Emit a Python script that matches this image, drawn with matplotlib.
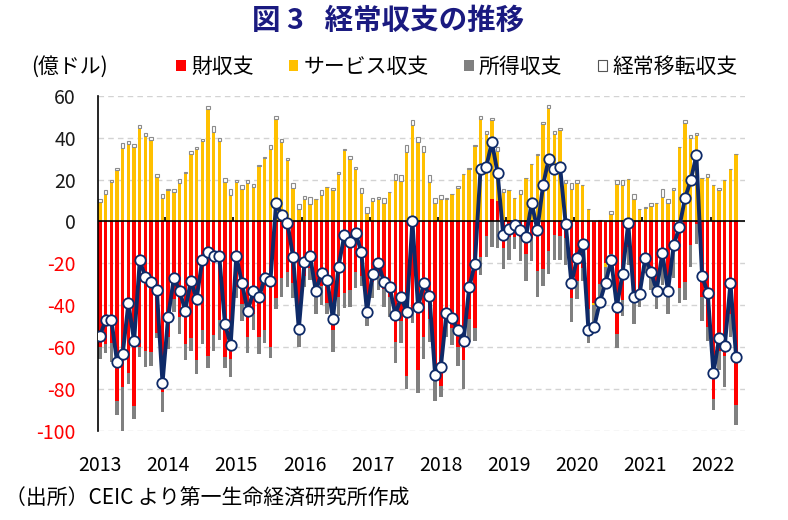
import numpy as np
import matplotlib
matplotlib.use("Agg")
import matplotlib.pyplot as plt
from matplotlib.patches import Patch

plt.rcParams['font.family'] = ['Noto Sans CJK JP', 'DejaVu Sans']

# 月次データ 2013/01 - 2022/05（億ドル）
years = [str(y) for y in range(2013, 2023)]
goods = [-60, -58.4, -58, -85.5, -79, -72.5, -88, -60, -61.6, -62.1, -53.3, -81.5,
         -55, -37, -45.7, -58.4, -55.6, -66, -51.7, -64.3, -54, -47, -64.5, -65.6,
         -31.4, -39.3, -55, -44, -55, -52, -60, -36.5, -27, -24.2, -29.5, -52,
         -26, -22, -36, -31, -39, -52, -36, -34, -32.6, -24.2, -25.8, -42,
         -29, -25.8, -32.2, -36, -57.6, -47.3, -73.6, -42, -70.9, -55, -46.5, -76,
         -78.3, -46, -51, -60, -66, -46.5, -50.8, -17, -7, 10.5, 9.6, -12.7,
         -7.5, -7.5, -7.5, -15.4, -8, -23.4, -22.6, -14.3, -6.7, -7, -8, -36.5,
         -28.2, -22, -42, -39, -30, -20, -15.4, -53.7, -37.4, -12, -38.5, -35,
         -18, -25.5, -33, -15, -33, -11, -31.7, -29, -11.1, -1, -36.1, -50.5,
         -84.7, -62, -64, -44.2, -87.6]
services = [9.5, 13.2, 18.8, 24.7, 35.2, 37.1, 35.5, 44.6, 40.9, 38.7, 21.2, 11.3,
            14.8, 13.9, 18.3, 23, 32.3, 34.4, 38.4, 53.7, 42.7, 38.4, 18.8, 12.4,
            18.8, 15.3, 18.3, 16.4, 26.3, 30.4, 34.4, 48.9, 37.9, 29.1, 16.1, 6,
            10.7, 8.1, 10.8, 12.4, 16.4, 14.8, 22.8, 33.9, 29.9, 24.8, 13.7, 4.1,
            9.7, 10.8, 8.8, 14, 19.9, 19.3, 33.1, 46.2, 37.9, 33.1, 18.8, 8.8,
            10.8, 10.8, 12.9, 16.1, 22.5, 25, 35.8, 49, 41.9, 37.7, 24, 14,
            14.8, 11.1, 13.2, 20.9, 27.5, 31.5, 46.7, 54.3, 41.9, 43.5, 18.3, 15.6,
            18.3, 17.5, 6, -1, 0.5, -1.5, 3.7, 17.7, 17.2, 20.4, 10.7, 6,
            6.5, 7.6, 8.8, 11.6, 8.8, 14.8, 35.5, 47.1, 40, 41.1, 20.9, 21.2,
            17.5, 15.1, 19.9, 24.8, 32.3]
primary = [-5.6, -4.5, -9, -6.8, -21, -5, -6.4, -4.8, -7.6, -6.7, -2.2, -9.6,
           -5.8, -6.4, -8, -7.6, -6, -7, -6.7, -5.7, -8, -9.5, -5.6, -8.8,
           -5.1, -8, -7.7, -8, -8, -6, -5.1, -5.3, -9, -7.2, -7, -8,
           -5.4, -6, -8, -9, -5, -10.5, -9, -7.5, -8.4, -7.6, -4.8, -8,
           -7.3, -6.8, -8.4, -9.7, -10, -10.8, -6.4, -6.6, -11, -10.6, -11, -9.5,
           -5.3, -9, -8, -9, -14, -11, -6, -8.5, -10, -12.3, -12.7, -9.9,
           -11, -5.5, -11.5, -13, -10.7, -12.4, -8, -11, -11.6, -11.6, -13, -11.5,
           -9, -6.2, -16, -10.3, -9, -7.8, -8.4, -6.5, -7.6, -9, -10.2, -5.6,
           -6.6, -7.1, -9, -15.5, -11, -16, -7, -8.5, -10.7, -9.7, -11.5, -6.7,
           -5.3, -9, -15, -10.8, -9.5]
secondary = [1, 2, 1, 0.6, 2.2, 1.3, 1.3, 1.3, 1.4, 1.6, 1.6, 1.6,
             0.6, 1.6, 2, 0.5, 1.1, 1.1, 1, 1.6, 2.7, 1.4, 2, 3,
             0.8, 2.2, 1.6, 1.6, 0.5, 0.5, 1.9, 1.3, 1.6, 1.3, 2.4, 2.4,
             1.3, 3.5, 0, 2.7, 0, 1.1, 0.8, 0.8, 1.4, 1.4, 2.2, 2.7,
             1.6, 1.1, 2.5, 0, 2.9, 3, 3.2, 2.4, 2.4, 2.7, 3.2, 2.5,
             2, 0.5, 0, 0.8, 0.3, 0.6, 0.8, 1.1, 1.3, 1, 1.8, 1.3,
             0, 0, 1.9, 0, 0, 0.8, 0.8, 1.1, 1.3, 1.1, 1.3, 2.7,
             1.3, 0, 0, 0, 0, 0, 1.3, 1.9, 2.4, 0, 2.2, 0,
             0.6, 1.1, 0, 3.8, 1.9, 1.1, 0, 1.1, 1.4, 1.1, 0, 1.6,
             0, 0.8, 0, 0, 0]
current = [-54.5, -47, -47, -67, -63, -39, -57, -18.6, -26.6, -28.7, -32.5, -77.2,
           -45.4, -27, -33, -42.5, -28.2, -37, -18.6, -14.6, -16.6, -16.7, -48.9, -58.8,
           -16.6, -29.5, -42.8, -33.4, -36.1, -27, -28.5, 8.8, 3.2, -0.8, -17, -51.4,
           -19.4, -16.6, -33.4, -24.5, -27.7, -46.5, -21.5, -6.7, -9.9, -5.4, -14.6, -43,
           -25, -19.9, -29, -31.4, -44.4, -36.1, -43, 0, -41, -29.5, -35.4, -73.2,
           -69.6, -43.8, -46.2, -52, -57.2, -31.4, -20.2, 25.2, 26, 37.9, 23, -6.7,
           -3.5, -1.9, -4, -7.2, 8.8, -4, 17.2, 30, 24.8, 26, -1.4, -29.5,
           -17.5, -10.7, -52, -50.3, -38.4, -29.3, -18.5, -40.6, -25, -0.8, -35.8, -34.6,
           -17.5, -23.9, -33, -15.1, -33, -11.3, -2.7, 11.1, 19.6, 31.5, -26.1, -34.1,
           -72.3, -55.7, -59.4, -29.5, -64.8]

n = len(current)
x = np.arange(n)

fig = plt.figure(figsize=(7.88, 5.2), dpi=100)
ax = fig.add_axes([0.1244, 0.171, 0.8206, 0.645])

# 積み上げ棒（正は上へ、負は下へ）
series = [(goods, '#FF0000', None), (services, '#FFC000', None),
          (primary, '#808080', None), (secondary, 'white', '#8C8C8C')]
pos = np.zeros(n)
neg = np.zeros(n)
for vals, fc, ec in series:
    v = np.array(vals, dtype=float)
    base = np.where(v >= 0, pos, neg)
    if ec:
        ax.bar(x, v, bottom=base, width=0.6, color=fc, edgecolor=ec, linewidth=0.8, zorder=2)
    else:
        ax.bar(x, v, bottom=base, width=0.6, color=fc, linewidth=0, zorder=2)
    pos += np.where(v >= 0, v, 0)
    neg += np.where(v < 0, v, 0)

ax.plot(x, current, color='#0E2A68', lw=2.8, marker='o', ms=7.5,
        mfc='white', mec='#0E2A68', mew=1.3, zorder=4)

ax.axhline(0, color='black', lw=1.2, zorder=3)
ax.vlines(np.arange(12, n, 12) - 0.5, 0, 2.2, color='black', lw=1.2, zorder=3)

yt = list(range(-100, 61, 20))
ax.set_ylim(-100, 60)
ax.set_xlim(-0.35, 113.5)
ax.set_yticks(yt)
ax.set_yticklabels([str(t) for t in yt])
for lab, t in zip(ax.get_yticklabels(), yt):
    lab.set_color('#FF0000' if t < 0 else '#1A1A1A')
ax.set_xticks(np.arange(0, n, 12))
ax.set_xticklabels(years)
ax.tick_params(axis='y', length=0, pad=16, labelsize=14)
ax.tick_params(axis='x', length=0, pad=17, labelsize=14)
ax.yaxis.grid(True, ls=(0, (4, 3)), color='#D3D3D3', lw=1)
ax.set_axisbelow(True)
for s in ['top', 'right', 'bottom']:
    ax.spines[s].set_visible(False)
ax.spines['left'].set_linewidth(1.2)

fig.text(0.493, 0.96, '図 3\u2002 経常収支の推移', ha='center', va='center',
         fontsize=20.5, fontweight='bold', color='#1A1A80')
fig.text(0.04, 0.871, '(億ドル)', ha='left', va='center', fontsize=15)

handles = [Patch(facecolor='#FF0000', edgecolor='none'),
           Patch(facecolor='#FFC000', edgecolor='none'),
           Patch(facecolor='#808080', edgecolor='none'),
           Patch(facecolor='white', edgecolor='#555555', linewidth=0.8)]
labels = ['財収支', 'サービス収支', '所得収支', '経常移転収支']
fig.legend(handles, labels, loc='center', bbox_to_anchor=(0.58, 0.871), ncol=4,
           frameon=False, fontsize=15, handlelength=0.45, handleheight=0.45,
           handletextpad=0.25, columnspacing=1.7)

fig.text(0.006, 0.04, '（出所）CEIC より第一生命経済研究所作成', ha='left', va='center', fontsize=15)

fig.savefig('out.png', dpi=100)
